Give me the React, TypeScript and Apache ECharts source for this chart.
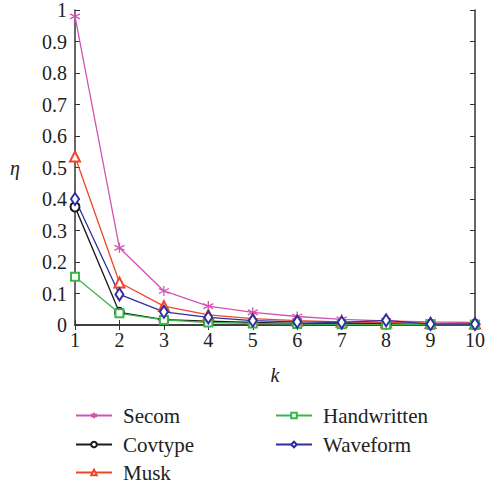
import React, { useEffect, useRef } from "react";
import * as echarts from "echarts";

const kValues = ["1", "2", "3", "4", "5", "6", "7", "8", "9", "10"];
const secom = [0.98, 0.245, 0.108, 0.06, 0.04, 0.027, 0.018, 0.013, 0.01, 0.008];
const covtype = [0.375, 0.04, 0.017, 0.012, 0.008, 0.005, 0.004, 0.004, 0.002, 0.002];
const musk = [0.535, 0.135, 0.06, 0.032, 0.02, 0.014, 0.01, 0.008, 0.006, 0.005];
const handwritten = [0.153, 0.037, 0.016, 0.008, 0.005, 0.003, 0.002, 0.001, 0.001, 0.001];
const waveform = [0.4, 0.097, 0.042, 0.024, 0.014, 0.01, 0.008, 0.015, 0.003, 0.003];

const FONT = "Liberation Serif";
const AX = "#333";

export default function App() {
  const ref = useRef<HTMLDivElement>(null);
  useEffect(() => {
    const chart = echarts.init(ref.current!, null, { renderer: "svg" });
    const asterisk = "path://M5,0L5,10M0.67,2.5L9.33,7.5M0.67,7.5L9.33,2.5";
    const mk = (name: string, data: number[], color: string, symbol: string, size: any) => ({
      name,
      type: "line",
      data: data.map((v, i) => [kValues[i], v]),
      symbol,
      symbolSize: size,
      lineStyle: { color, width: 1.3 },
      itemStyle: { color, borderColor: color, borderWidth: 1.3 },
      z: 3,
    });
    const leg = (name: string, left: number, top: number) => ({
      data: [name],
      left,
      top,
      itemWidth: 36,
      itemHeight: 7,
      textStyle: { fontFamily: FONT, fontSize: 21, color: "#222", padding: [0, 0, 0, 6] },
    });
    chart.setOption({
      animation: false,
      textStyle: { fontFamily: FONT },
      grid: { left: 75, right: 17, top: 10, bottom: 160 },
      xAxis: [
        {
          type: "category",
          data: kValues,
          boundaryGap: false,
          position: "bottom",
          axisLine: { lineStyle: { color: AX, width: 1.5 } },
          axisTick: { inside: true, length: 5, lineStyle: { color: AX } },
          axisLabel: { color: "#222", fontFamily: FONT, fontSize: 20, margin: 5 },
          name: "k",
          nameLocation: "middle",
          nameGap: 40,
          nameTextStyle: { fontFamily: FONT, fontStyle: "italic", fontSize: 20, color: "#222" },
        },
        {
          type: "category",
          data: kValues,
          boundaryGap: false,
          position: "top",
          axisLine: { lineStyle: { color: AX, width: 1.5 } },
          axisTick: { inside: true, length: 5, lineStyle: { color: AX } },
          axisLabel: { show: false },
        },
      ],
      yAxis: [
        {
          type: "value",
          min: 0,
          max: 1,
          interval: 0.1,
          position: "left",
          splitLine: { show: false },
          axisLine: { show: true, lineStyle: { color: AX, width: 1.5 } },
          axisTick: { show: true, inside: true, length: 5, lineStyle: { color: AX } },
          axisLabel: {
            color: "#222",
            fontFamily: FONT,
            fontSize: 20,
            margin: 8,
            formatter: (v: number) => (v === 0 ? "0" : v === 1 ? "1" : String(Math.round(v * 10) / 10)),
          },
          name: "η",
          nameLocation: "middle",
          nameRotate: 0,
          nameGap: 55,
          nameTextStyle: { fontFamily: FONT, fontStyle: "italic", fontSize: 20, color: "#222" },
        },
        {
          type: "value",
          min: 0,
          max: 1,
          interval: 0.1,
          position: "right",
          splitLine: { show: false },
          axisLine: { show: true, lineStyle: { color: AX, width: 1.5 } },
          axisTick: { show: true, inside: true, length: 5, lineStyle: { color: AX } },
          axisLabel: { show: false },
        },
      ],
      legend: [
        leg("Secom", 70, 400),
        leg("Covtype", 70, 429),
        leg("Musk", 70, 457),
        leg("Handwritten", 270, 400),
        leg("Waveform", 270, 429),
      ],
      series: [
        mk("Secom", secom, "#d054b4", asterisk, 10),
        mk("Covtype", covtype, "#1a1a1a", "emptyCircle", 9),
        mk("Musk", musk, "#f2452a", "emptyTriangle", 10),
        mk("Handwritten", handwritten, "#3bb54a", "emptyRect", 8),
        mk("Waveform", waveform, "#2e2ea0", "emptyDiamond", [8, 12]),
      ],
    });
    return () => chart.dispose();
  }, []);
  return (
    <div
      ref={ref}
      style={{ position: "absolute", left: 0, top: 0, width: 492, height: 485, background: "#fff" }}
    />
  );
}
